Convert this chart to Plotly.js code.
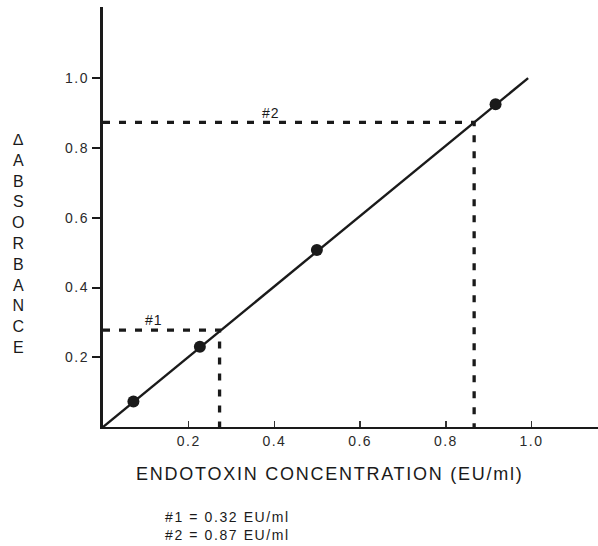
<!DOCTYPE html>
<html>
<head>
<meta charset="utf-8">
<script src="https://cdn.plot.ly/plotly-3.0.1.min.js"></script>
<style>html,body{margin:0;padding:0;background:#fff;}#chart{width:598px;height:546px;}</style>
</head>
<body>
<div id="chart"></div>
<script>
// Standard curve points
const stdConc = [0.071, 0.226, 0.499, 0.916];
const stdAbs = [0.073, 0.230, 0.508, 0.926];
// Regression line ends
const fitX = [0, 0.992];
const fitY = [0, 1.001];
// Samples
const sampleNames = ["#1", "#2"];
const sampleX = [0.272, 0.866];
const sampleY = [0.278, 0.874];
const sampleResults = ["#1 = 0.32 EU/ml", "#2 = 0.87 EU/ml"];
// Ticks
const xTickVals = [0.2, 0.4, 0.6, 0.8, 1.0];
const xTickText = ["0.2", "0.4", "0.6", "0.8", "1.0"];
const yTickVals = [0.2, 0.4, 0.6, 0.8, 1.0];
const yTickText = ["0.2", "0.4", "0.6", "0.8", "1.0"];
const xTitle = "ENDOTOXIN CONCENTRATION (EU/ml)";
const yTitleLetters = ["\u2206", "A", "B", "S", "O", "R", "B", "A", "N", "C", "E"];

const FONT = "Arial, 'Liberation Sans', sans-serif";
const sp = (t, ls) => `<span style="letter-spacing:${ls}px">${t}</span>`;

const traces = [];
sampleNames.forEach((n, i) => {
  traces.push({
    x: [0, sampleX[i], sampleX[i]], y: [sampleY[i], sampleY[i], 0],
    mode: "lines", line: {color: "#1a1a1a", width: 3.3, dash: "7px,9px"},
    hoverinfo: "skip", showlegend: false, cliponaxis: false
  });
});
traces.push({x: fitX, y: fitY, mode: "lines", line: {color: "#1a1a1a", width: 2.4}, showlegend: false});
traces.push({x: stdConc, y: stdAbs, mode: "markers", marker: {color: "#1a1a1a", size: 12, line: {width: 0}}, showlegend: false});

const annotations = [];
// sample labels sit above the dashed horizontals
const labelXFrac = [0.44, 0.453];
sampleNames.forEach((n, i) => {
  annotations.push({
    x: sampleX[i] * labelXFrac[i], y: sampleY[i] + 0.028, xref: "x", yref: "y",
    text: sp(n, 1), showarrow: false, font: {family: FONT, size: 14, color: "#1a1a1a"},
    xanchor: "center", yanchor: "middle"
  });
});
annotations.push({
  xref: "paper", yref: "paper", x: -0.172, y: 0.436,
  text: yTitleLetters.join("<br>"), showarrow: false, align: "center",
  font: {family: FONT, size: 16, color: "#1a1a1a"}, xanchor: "center", yanchor: "middle"
});
annotations.push({
  xref: "paper", yref: "paper", x: 0.458, y: -0.113,
  text: sp(xTitle, 1.75), showarrow: false,
  font: {family: FONT, size: 18, color: "#1a1a1a"}, xanchor: "center", yanchor: "middle"
});
annotations.push({
  xref: "paper", yref: "paper", x: 0.121, y: -0.235,
  text: sampleResults.map(t => sp(t, 1.6)).join("<br>"), showarrow: false, align: "left",
  font: {family: FONT, size: 14, color: "#1a1a1a"}, xanchor: "left", yanchor: "middle"
});

const layout = {
  width: 598, height: 546,
  margin: {l: 103, r: 0, t: 7, b: 119},
  paper_bgcolor: "#fff", plot_bgcolor: "#fff",
  showlegend: false,
  xaxis: {
    range: [0, 1.155], showgrid: false, zeroline: false,
    showline: true, linecolor: "#1a1a1a", linewidth: 2.2,
    ticks: "inside", ticklen: 6, tickwidth: 1.5, tickcolor: "#333",
    tickvals: xTickVals, ticktext: xTickText.map(t => sp(t, 1.5)),
    tickfont: {family: FONT, size: 14, color: "#2a2a2a"}
  },
  yaxis: {
    range: [0, 1.205], showgrid: false, zeroline: false,
    showline: true, linecolor: "#1a1a1a", linewidth: 3.2,
    ticks: "outside", ticklen: 8, tickwidth: 2, tickcolor: "#1a1a1a",
    tickvals: yTickVals, ticktext: yTickText.map(t => sp(t, 1.5)),
    tickfont: {family: FONT, size: 14, color: "#2a2a2a"}
  },
  annotations: annotations
};

Plotly.newPlot("chart", traces, layout, {staticPlot: true, displayModeBar: false});
</script>
</body>
</html>
